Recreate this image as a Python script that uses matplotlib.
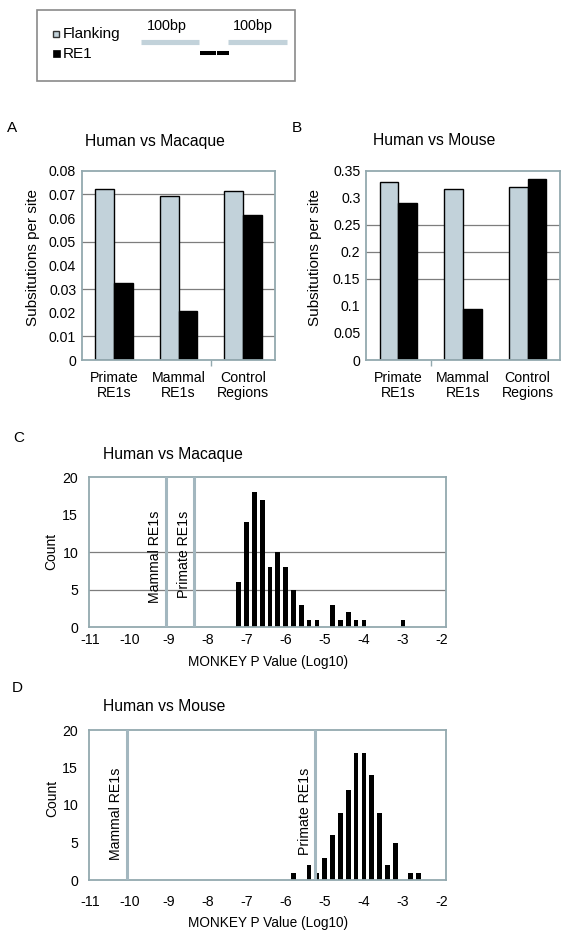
import matplotlib
matplotlib.use("Agg")
import matplotlib.pyplot as plt
from matplotlib.patches import Rectangle
import numpy as np

plt.rcParams['font.family'] = ['Liberation Sans', 'DejaVu Sans']
plt.rcParams['axes.unicode_minus'] = False

# ---------------- data ----------------
categories = ["Primate\nRE1s", "Mammal\nRE1s", "Control\nRegions"]
macaque_flanking = [0.0724, 0.0692, 0.0716]
macaque_re1 = [0.0327, 0.0206, 0.0611]
mouse_flanking = [0.330, 0.316, 0.319]
mouse_re1 = [0.290, 0.095, 0.334]

ticks_a = [0, 0.01, 0.02, 0.03, 0.04, 0.05, 0.06, 0.07, 0.08]
grid_a = [0.01, 0.03, 0.05, 0.07]
ticks_b = [0, 0.05, 0.1, 0.15, 0.2, 0.25, 0.3, 0.35]
grid_b = [0.15, 0.2, 0.25]

# histogram panel C (Human vs Macaque)
bins_c = [-7.2, -7.0, -6.8, -6.6, -6.4, -6.2, -6.0, -5.8, -5.6, -5.4, -5.2,
          -5.0, -4.8, -4.6, -4.4, -4.2, -4.0, -3.8, -3.6, -3.4, -3.2, -3.0]
counts_c = [6, 14, 18, 17, 8, 10, 8, 5, 3, 1, 1,
            0, 3, 1, 2, 1, 1, 0, 0, 0, 0, 1]
mammal_c = -9.06
primate_c = -8.34

# histogram panel D (Human vs Mouse)
bins_d = [-5.8, -5.6, -5.4, -5.2, -5.0, -4.8, -4.6, -4.4, -4.2, -4.0,
          -3.8, -3.6, -3.4, -3.2, -3.0, -2.8, -2.6]
counts_d = [1, 0, 2, 1, 3, 6, 9, 12, 17, 17,
            14, 9, 2, 5, 0, 1, 1]
mammal_d = -10.06
primate_d = -5.24

hist_xticks = [-11, -10, -9, -8, -7, -6, -5, -4, -3, -2]
hist_yticks = [0, 5, 10, 15, 20]
grid_c = [5, 10]

# ---------------- style ----------------
FLANK = '#c2d2da'
FRAME = '#93a9af'
LINEC = '#a3b7bf'
GRIDC = '#7d7d7d'
W, H = 561, 932

fig = plt.figure(figsize=(W / 100, H / 100), dpi=100)

# overlay axes in pixel coordinates for annotations
ov = fig.add_axes([0, 0, 1, 1])
ov.set_xlim(0, W)
ov.set_ylim(H, 0)
ov.axis('off')


def px_axes(l, t, r, b):
    return fig.add_axes([l / W, 1 - b / H, (r - l) / W, (b - t) / H])


def style_frame(ax):
    for s in ax.spines.values():
        s.set_color(FRAME)
        s.set_linewidth(1.3)


# ---------- legend schematic ----------
ov.add_patch(Rectangle((36.7, 10), 258.3, 71, fill=False, ec='#8a8a8a', lw=1.2))
ov.add_patch(Rectangle((53.5, 30.5), 6, 6, fc=FLANK, ec='#333333', lw=1.0))
ov.add_patch(Rectangle((53, 50), 7, 7, fc='black', ec='black', lw=0.5))
ov.text(62.5, 34, "Flanking", fontsize=11, va='center', ha='left')
ov.text(62.5, 53.5, "RE1", fontsize=11, va='center', ha='left')
ov.text(147, 26, "100bp", fontsize=10.4, va='center', ha='left')
ov.text(233, 26, "100bp", fontsize=10.4, va='center', ha='left')
ov.plot([140.7, 199.3], [41.7, 41.7], color=FLANK, lw=3.7, solid_capstyle='butt')
ov.plot([228, 287.3], [41.7, 41.7], color=FLANK, lw=3.7, solid_capstyle='butt')
ov.plot([200, 216], [52.7, 52.7], color='black', lw=2.9, solid_capstyle='butt')
ov.plot([217.5, 228.7], [52.7, 52.7], color='black', lw=2.9, solid_capstyle='butt')


# ---------- bar panels ----------
def bar_panel(ax, flank, re1, ticks, grids, ymax, minor_x):
    x = np.arange(len(categories))
    bw = 0.29
    for g in grids:
        ax.axhline(g, color=GRIDC, lw=0.9, zorder=1)
    ax.bar(x - bw / 2, flank, bw, color=FLANK, edgecolor='black', lw=1.0, zorder=2)
    ax.bar(x + bw / 2, re1, bw, color='black', edgecolor='black', lw=1.0, zorder=2)
    ax.set_xlim(-0.5, len(categories) - 0.5)
    ax.set_ylim(0, ymax)
    ax.set_yticks(ticks)
    ax.set_yticklabels(['{:g}'.format(t) for t in ticks], fontsize=10.2)
    ax.set_xticks(x)
    ax.set_xticklabels(categories, fontsize=10.2, linespacing=1.05)
    ax.set_xticks([minor_x], minor=True)
    ax.tick_params(axis='x', which='major', length=0, pad=8)
    ax.tick_params(axis='x', which='minor', length=4, color=FRAME, width=1)
    ax.tick_params(axis='y', length=0, pad=4)
    style_frame(ax)


axA = px_axes(81.7, 170.7, 275.3, 360)
bar_panel(axA, macaque_flanking, macaque_re1, ticks_a, grid_a, 0.08, 1.5)
axB = px_axes(366, 170.7, 560, 360)
bar_panel(axB, mouse_flanking, mouse_re1, ticks_b, grid_b, 0.35, 0.5)

ov.text(7, 128.5, "A", fontsize=11, va='center', ha='left')
ov.text(292, 128.5, "B", fontsize=11, va='center', ha='left')
ov.text(85, 141.7, "Human vs Macaque", fontsize=11.3, va='center', ha='left')
ov.text(373, 140.7, "Human vs Mouse", fontsize=11.3, va='center', ha='left')
ov.text(33, 257.5, "Subsitutions per site", fontsize=11, va='center', ha='center', rotation=90)
ov.text(315, 257.5, "Subsitutions per site", fontsize=11, va='center', ha='center', rotation=90)


# ---------- histogram panels ----------
def hist_panel(ax, bins, counts, mammal, primate, grids, top_y, xpad):
    for g in grids:
        ax.axhline(g, color=GRIDC, lw=0.9, zorder=1)
    ax.bar(bins, counts, 0.12, color='black', zorder=2)
    ax.axvline(mammal, color=LINEC, lw=2.2, zorder=3)
    ax.axvline(primate, color=LINEC, lw=2.2, zorder=3)
    ax.text(mammal - 0.27, top_y, "Mammal RE1s", rotation=90, fontsize=10.2,
            ha='center', va='top', zorder=4)
    ax.text(primate - 0.27, top_y, "Primate RE1s", rotation=90, fontsize=10.2,
            ha='center', va='top', zorder=4)
    ax.set_xlim(-11.02, -1.9)
    ax.set_ylim(0, 20)
    ax.set_xticks(hist_xticks)
    ax.set_xticklabels([str(t) for t in hist_xticks], fontsize=10.2)
    ax.set_xticks([-10, -8], minor=True)
    ax.set_yticks(hist_yticks)
    ax.set_yticklabels([str(t) for t in hist_yticks], fontsize=10.2)
    ax.tick_params(axis='x', which='major', length=0, pad=xpad)
    ax.tick_params(axis='x', which='minor', length=4, color=FRAME, width=1)
    ax.tick_params(axis='y', length=0, pad=8)
    style_frame(ax)


axC = px_axes(89.3, 477.3, 446, 627.3)
hist_panel(axC, bins_c, counts_c, mammal_c, primate_c, grid_c, 15.6, 4)
axD = px_axes(89.3, 730, 446, 880)
hist_panel(axD, bins_d, counts_d, mammal_d, primate_d, [], 15.0, 11)

ov.text(13, 438.5, "C", fontsize=11, va='center', ha='left')
ov.text(12, 688, "D", fontsize=11, va='center', ha='left')
ov.text(103, 455, "Human vs Macaque", fontsize=11.3, va='center', ha='left')
ov.text(103, 706.7, "Human vs Mouse", fontsize=11.3, va='center', ha='left')
ov.text(51.7, 551.7, "Count", fontsize=10, va='center', ha='center', rotation=90)
ov.text(52, 798, "Count", fontsize=10, va='center', ha='center', rotation=90)
ov.text(267.7, 662, "MONKEY P Value (Log10)", fontsize=9.8, va='center', ha='center')
ov.text(267.7, 923.3, "MONKEY P Value (Log10)", fontsize=9.8, va='center', ha='center')

fig.savefig("out.png", dpi=100)
